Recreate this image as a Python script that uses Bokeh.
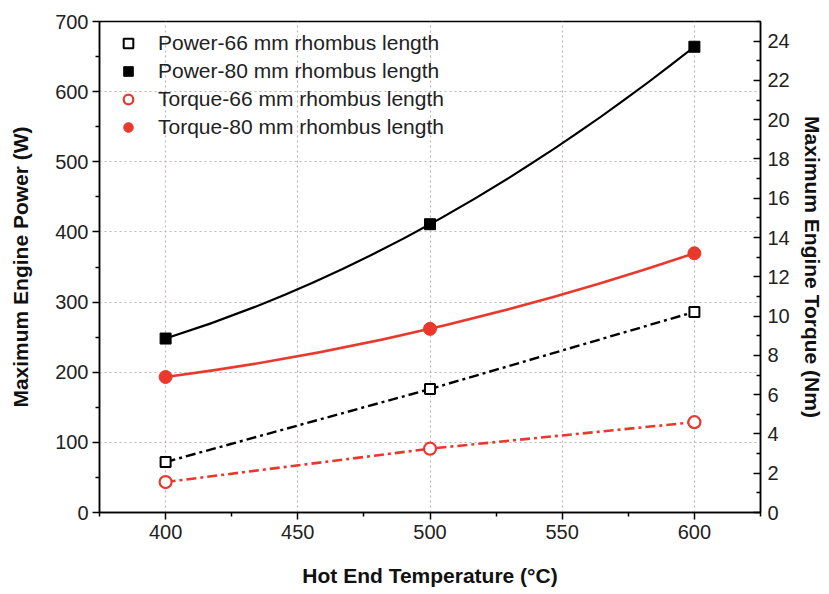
from bokeh.plotting import figure
from bokeh.models import Range1d, LinearAxis, FixedTicker, Legend, LegendItem
from bokeh.embed import file_html
from bokeh.resources import INLINE

# ---- data ----
temps = [400, 500, 600]
power_66 = [72, 176, 286]        # W
power_80 = [248, 411, 664]       # W
torque_66 = [1.55, 3.25, 4.6]    # Nm
torque_80 = [6.9, 9.35, 13.2]    # Nm

x_ticks = [400, 450, 500, 550, 600]
x_minor = [375, 425, 475, 525, 575, 625]
power_ticks = [0, 100, 200, 300, 400, 500, 600, 700]
power_minor = [50, 150, 250, 350, 450, 550, 650]
torque_ticks = list(range(0, 25, 2))
torque_minor = list(range(1, 26, 2))

labels = ["Power-66 mm rhombus length", "Power-80 mm rhombus length",
          "Torque-66 mm rhombus length", "Torque-80 mm rhombus length"]

RED = "#e8392c"
FONT = "Liberation Sans"
TICK_SIZE = "20px"
TITLE_SIZE = "21px"

p = figure(width=829, height=594, x_range=Range1d(375, 625), y_range=Range1d(0, 700),
           output_backend="svg", toolbar_location=None,
           min_border_left=99, min_border_right=69, min_border_top=21, min_border_bottom=82)
p.extra_y_ranges = {"torque": Range1d(0, 25)}
p.background_fill_color = "white"
p.border_fill_color = "white"
p.outline_line_color = "black"
p.outline_line_width = 1.5

# x axis
xa = p.xaxis[0]
xa.ticker = FixedTicker(ticks=x_ticks, minor_ticks=x_minor)
xa.axis_label = "Hot End Temperature (\u00b0C)"

# left axis
ya = p.yaxis[0]
ya.ticker = FixedTicker(ticks=power_ticks, minor_ticks=power_minor)
ya.axis_label = "Maximum Engine Power (W)"

# right axis
ra = LinearAxis(y_range_name="torque", ticker=FixedTicker(ticks=torque_ticks, minor_ticks=torque_minor),
                axis_label="Maximum Engine Torque (Nm)")
p.add_layout(ra, "right")

for ax in (xa, ya, ra):
    ax.axis_line_color = "black"
    ax.axis_line_width = 1.5
    ax.major_tick_line_color = "black"
    ax.major_tick_line_width = 1.5
    ax.minor_tick_line_color = "black"
    ax.minor_tick_line_width = 1.5
    ax.major_label_text_font = FONT
    ax.major_label_text_font_size = TICK_SIZE
    ax.major_label_text_color = "#222222"
    ax.axis_label_text_font = FONT
    ax.axis_label_text_font_size = TITLE_SIZE
    ax.axis_label_text_font_style = "bold"
    ax.axis_label_text_color = "#111111"

xa.major_tick_in = 0
xa.major_tick_out = 7
xa.minor_tick_in = 0
xa.minor_tick_out = 4
xa.major_label_standoff = 5
xa.axis_label_standoff = 22

ya.major_tick_in = 0
ya.major_tick_out = 7
ya.minor_tick_in = 0
ya.minor_tick_out = 4
ya.major_label_standoff = 4
ya.axis_label_standoff = 20

ra.major_tick_in = 7
ra.major_tick_out = 0
ra.minor_tick_in = 4
ra.minor_tick_out = 0
ra.major_label_standoff = 7
ra.axis_label_standoff = 8

# grids
p.xgrid.ticker = FixedTicker(ticks=x_ticks)
p.ygrid.ticker = FixedTicker(ticks=power_ticks[1:-1])
for g in (p.xgrid, p.ygrid):
    g.grid_line_color = "#bdb5b5"
    g.grid_line_dash = "2 3"
    g.grid_line_width = 1.2

# ---- lines ----
# smooth curves through the three points (quadratic Bezier passing the middle point)
def ctrl(v):
    return 2 * v[1] - (v[0] + v[2]) / 2.0

p.quadratic(x0=[temps[0]], y0=[power_80[0]], x1=[temps[2]], y1=[power_80[2]],
            cx=[ctrl(temps)], cy=[ctrl(power_80)],
            line_color="black", line_width=2.2)
p.quadratic(x0=[temps[0]], y0=[torque_80[0]], x1=[temps[2]], y1=[torque_80[2]],
            cx=[ctrl(temps)], cy=[ctrl(torque_80)],
            line_color=RED, line_width=2.6, y_range_name="torque")

p.line(temps, power_66, line_color="black", line_width=2.4, line_dash="10 4 3 4")
p.line(temps, torque_66, line_color=RED, line_width=2.6, line_dash="10 4 3 4", y_range_name="torque")

# ---- markers ----
r1 = p.scatter(temps, power_66, marker="square", size=10, fill_color="white",
               line_color="black", line_width=2)
r2 = p.scatter(temps, power_80, marker="square", size=11, fill_color="black",
               line_color="black", line_width=1)
r3 = p.scatter(temps, torque_66, marker="circle", size=12, fill_color="white",
               line_color=RED, line_width=2.2, y_range_name="torque")
r4 = p.scatter(temps, torque_80, marker="circle", size=13, fill_color=RED,
               line_color=RED, line_width=1, y_range_name="torque")

legend = Legend(items=[LegendItem(label=labels[0], renderers=[r1]),
                       LegendItem(label=labels[1], renderers=[r2]),
                       LegendItem(label=labels[2], renderers=[r3]),
                       LegendItem(label=labels[3], renderers=[r4])],
                location="top_left")
legend.border_line_color = None
legend.background_fill_alpha = 0
legend.margin = 10
legend.padding = 7
legend.glyph_width = 38
legend.glyph_height = 24
legend.label_height = 24
legend.label_standoff = 11
legend.spacing = 4
legend.label_text_font = FONT
legend.label_text_font_size = "21px"
legend.label_text_color = "#222222"
p.add_layout(legend)

open("out.html", "w").write(file_html(p, INLINE))
